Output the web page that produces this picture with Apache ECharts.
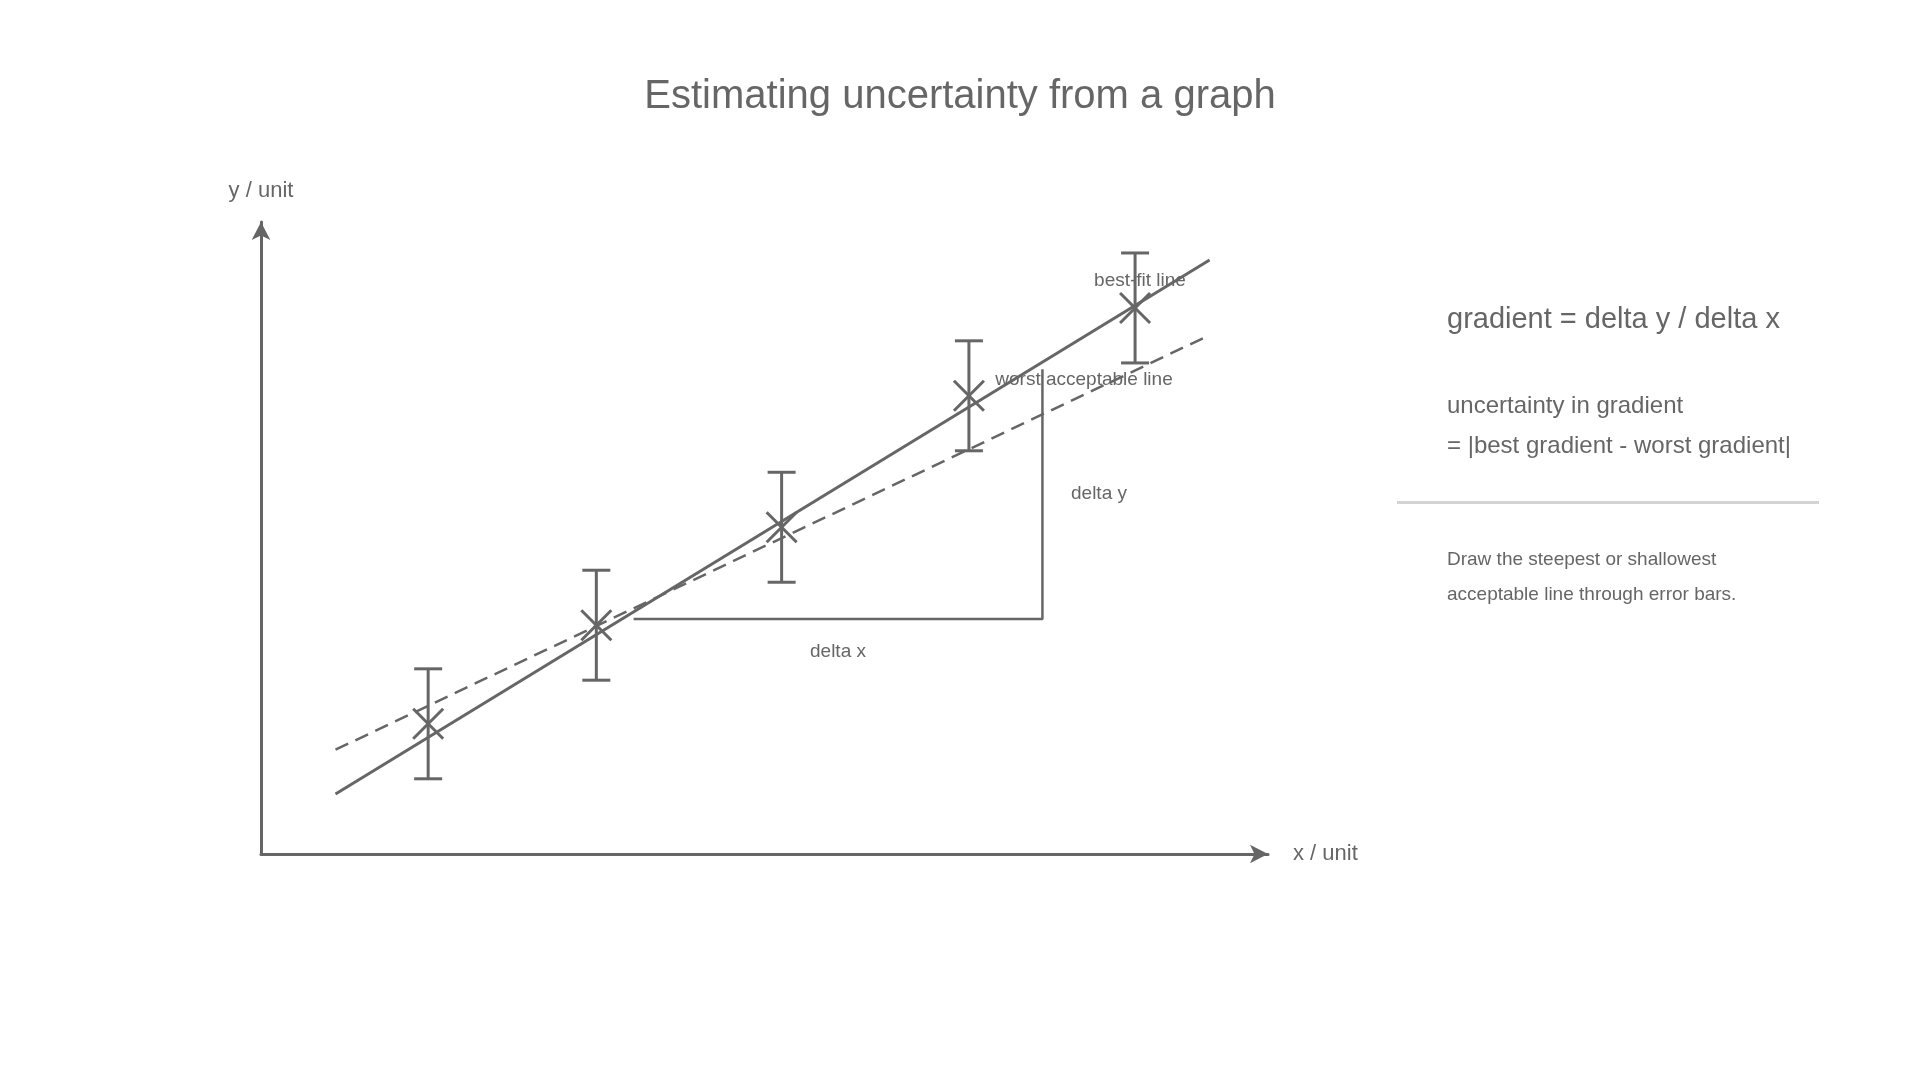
<!DOCTYPE html>
<html><head><meta charset="utf-8">
<script src="https://cdn.jsdelivr.net/npm/echarts@6/dist/echarts.min.js"></script>
<style>html,body{margin:0;background:#fff}#c{width:1920px;height:1080px}</style>
</head><body><div id="c"></div>
<script>
const pointX = [1.66, 3.33, 5.17, 7.03, 8.68];
const pointY = [2.06, 3.62, 5.17, 7.25, 8.64];
const errHalf = [0.87, 0.87, 0.87, 0.87, 0.87];
const bestFit = [[0.74, 0.95], [9.42, 9.40]];
const worstLine = [[0.74, 1.65], [9.42, 8.21]];
const triangle = [[3.70, 3.72], [7.76, 3.72], [7.76, 7.67]];
const C = '#666';
const F = 'Liberation Sans, Arial, sans-serif';

const chart = echarts.init(document.getElementById('c'));
const pts = pointX.map((x, i) => [x, pointY[i], errHalf[i]]);
chart.setOption({
  animation: false,
  title: { text: 'Estimating uncertainty from a graph', left: 'center', top: 72,
    textStyle: { fontFamily: F, fontSize: 40, fontWeight: 'normal', color: C } },
  grid: { left: 261, top: 222, width: 1007, height: 632 },
  xAxis: { type: 'value', min: 0, max: 10, name: 'x / unit', nameGap: 25,
    nameTextStyle: { fontFamily: F, fontSize: 22, color: C },
    axisLine: { onZero: false, symbol: ['none', 'arrow'], symbolSize: [14, 18], lineStyle: { color: C, width: 3 } },
    axisTick: { show: false }, axisLabel: { show: false }, splitLine: { show: false } },
  yAxis: { type: 'value', min: 0, max: 10, name: 'y / unit', nameGap: 20,
    nameTextStyle: { fontFamily: F, fontSize: 22, color: C },
    axisLine: { onZero: false, symbol: ['none', 'arrow'], symbolSize: [14, 18], lineStyle: { color: C, width: 3 } },
    axisTick: { show: false }, axisLabel: { show: false }, splitLine: { show: false } },
  series: [
    { type: 'line', data: bestFit, symbol: 'none', lineStyle: { color: C, width: 3 } },
    { type: 'line', data: worstLine, symbol: 'none', lineStyle: { color: C, width: 2.5, type: [14, 8] } },
    { type: 'line', data: triangle, symbol: 'none', lineStyle: { color: C, width: 2.5 } },
    { type: 'custom', data: pts,
      renderItem: function (params, api) {
        const c = api.coord([api.value(0), api.value(1)]);
        const t = api.coord([api.value(0), api.value(1) + api.value(2)]);
        const b = api.coord([api.value(0), api.value(1) - api.value(2)]);
        const s = { stroke: C, lineWidth: 3 };
        const w = 14, k = 15;
        return { type: 'group', children: [
          { type: 'line', shape: { x1: c[0], y1: t[1], x2: c[0], y2: b[1] }, style: s },
          { type: 'line', shape: { x1: c[0] - w, y1: t[1], x2: c[0] + w, y2: t[1] }, style: s },
          { type: 'line', shape: { x1: c[0] - w, y1: b[1], x2: c[0] + w, y2: b[1] }, style: s },
          { type: 'line', shape: { x1: c[0] - k, y1: c[1] - k, x2: c[0] + k, y2: c[1] + k }, style: s },
          { type: 'line', shape: { x1: c[0] - k, y1: c[1] + k, x2: c[0] + k, y2: c[1] - k }, style: s }
        ]};
      } }
  ],
  graphic: [
    { type: 'text', x: 1140, y: 281, style: { text: 'best-fit line', font: '19px ' + F, fill: C, align: 'center', verticalAlign: 'middle' } },
    { type: 'text', x: 1084, y: 380, style: { text: 'worst acceptable line', font: '19px ' + F, fill: C, align: 'center', verticalAlign: 'middle' } },
    { type: 'text', x: 1099, y: 494, style: { text: 'delta y', font: '19px ' + F, fill: C, align: 'center', verticalAlign: 'middle' } },
    { type: 'text', x: 838, y: 652, style: { text: 'delta x', font: '19px ' + F, fill: C, align: 'center', verticalAlign: 'middle' } },
    { type: 'text', x: 1447, y: 320, style: { text: 'gradient = delta y / delta x', font: '29px ' + F, fill: C, verticalAlign: 'middle' } },
    { type: 'text', x: 1447, y: 406, style: { text: 'uncertainty in gradient', font: '24px ' + F, fill: C, verticalAlign: 'middle' } },
    { type: 'text', x: 1447, y: 446, style: { text: '= |best gradient - worst gradient|', font: '24px ' + F, fill: C, verticalAlign: 'middle' } },
    { type: 'rect', shape: { x: 1397, y: 501, width: 422, height: 3 }, style: { fill: '#d3d3d3' } },
    { type: 'text', x: 1447, y: 560, style: { text: 'Draw the steepest or shallowest', font: '19px ' + F, fill: C, verticalAlign: 'middle' } },
    { type: 'text', x: 1447, y: 595, style: { text: 'acceptable line through error bars.', font: '19px ' + F, fill: C, verticalAlign: 'middle' } }
  ]
});
</script></body></html>
